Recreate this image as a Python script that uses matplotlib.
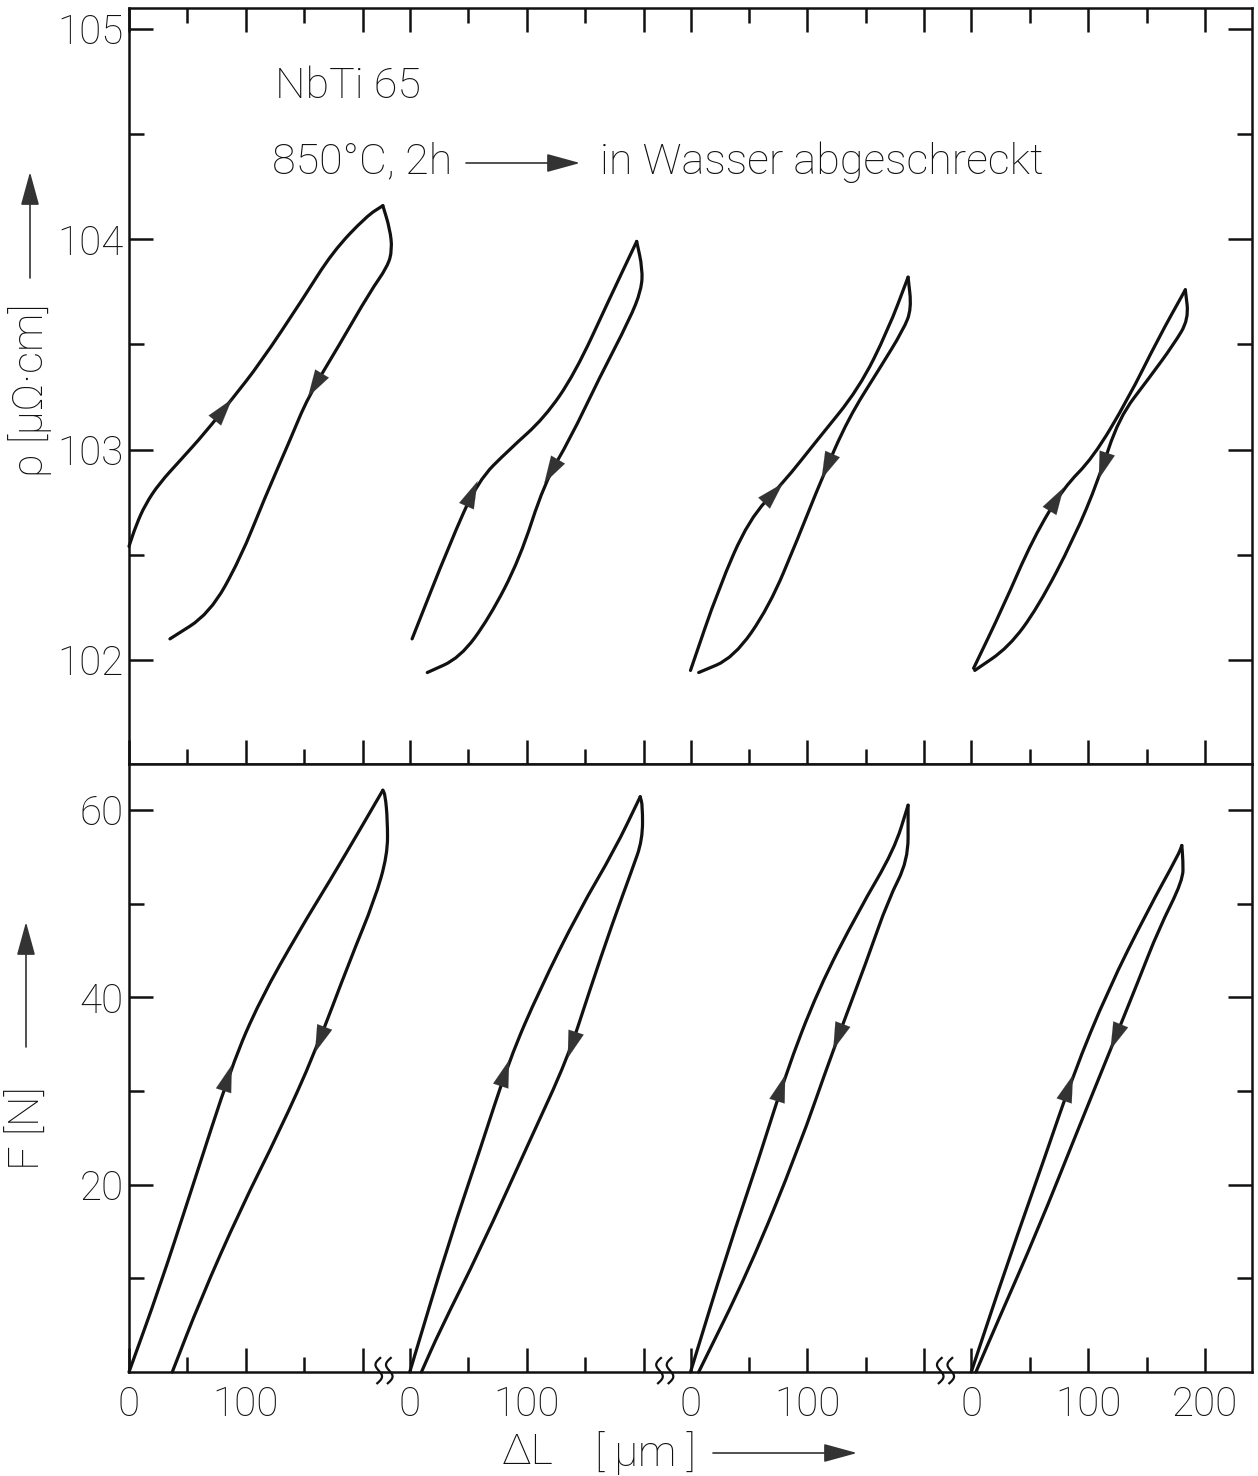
import numpy as np
import matplotlib.pyplot as plt
from matplotlib.patches import FancyArrowPatch, PathPatch
from matplotlib.path import Path
from matplotlib.ticker import FixedLocator, FixedFormatter

plt.rcParams['font.family'] = ['Roboto', 'DejaVu Sans']
plt.rcParams['font.weight'] = 'light'

# each cycle gets its own 0..240 um window on a shared axis
seg_offset = 240.0
break_at = 218.0

# --- resistivity loops: dL [um], rho [uOhm cm] ---
rho_up_dl = [
    [0, 6, 14, 26, 44, 65, 88, 112, 149, 174, 203, 217],
    [2, 34, 58, 85, 115, 141, 171, 194],
    [0, 24, 50, 79, 109, 144, 169, 186],
    [2, 27, 53, 79, 104, 134, 160, 183],
]
rho_up = [
    [102.54, 102.64, 102.74, 102.84, 102.95, 103.08, 103.24, 103.41, 103.72, 103.94, 104.11, 104.16],
    [102.10, 102.55, 102.85, 103.00, 103.15, 103.36, 103.72, 103.99],
    [101.95, 102.34, 102.67, 102.84, 103.05, 103.29, 103.57, 103.82],
    [101.96, 102.25, 102.58, 102.82, 102.96, 103.24, 103.53, 103.76],
]
rho_down_dl = [
    [217, 223, 225, 221, 206, 180, 153, 138, 116, 95, 69, 35],
    [194, 199, 198, 188, 162, 137, 115, 94, 68, 43, 15],
    [186, 189, 182, 161, 135, 112, 92, 67, 37, 7],
    [183, 186, 173, 152, 126, 109, 88, 57, 32, 3],
]
rho_down = [
    [104.16, 104.05, 103.95, 103.87, 103.75, 103.50, 103.25, 103.05, 102.77, 102.48, 102.22, 102.10],
    [103.99, 103.86, 103.76, 103.62, 103.34, 103.05, 102.84, 102.48, 102.20, 102.01, 101.94],
    [103.82, 103.67, 103.57, 103.38, 103.15, 102.86, 102.58, 102.25, 102.01, 101.94],
    [103.76, 103.62, 103.50, 103.34, 103.15, 102.86, 102.58, 102.25, 102.06, 101.95],
]
rho_up_arrow = [6, 2, 3, 3]
rho_down_arrow = [6, 6, 5, 5]

# --- force loops: dL [um], F [N] ---
f_up_dl = [
    [0, 26, 52, 88, 112, 146, 172, 197, 217],
    [0, 34, 60, 85, 111, 145, 175, 197],
    [0, 32, 58, 81, 109, 144, 174, 186],
    [0, 32, 62, 87, 117, 151, 177, 180],
]
f_up = [
    [0.0, 9.0, 18.9, 32.8, 39.7, 47.2, 52.5, 57.8, 62.1],
    [0.0, 14.1, 23.7, 33.3, 40.8, 49.3, 55.7, 61.4],
    [0.0, 13.0, 22.6, 31.7, 40.8, 49.3, 55.7, 60.5],
    [0.0, 12.0, 22.6, 31.7, 40.8, 49.3, 55.2, 56.2],
]
f_down_dl = [
    [217, 219, 221, 221, 210, 189, 159, 129, 95, 61, 37],
    [197, 199, 199, 190, 173, 154, 135, 103, 60, 26, 10],
    [186, 186, 186, 169, 151, 122, 92, 50, 7],
    [180, 181, 181, 160, 143, 119, 91, 57, 23, 4],
]
f_down = [
    [62.1, 61.6, 58.9, 55.2, 50.4, 44.0, 34.1, 25.8, 17.3, 7.7, 0.0],
    [61.4, 60.5, 56.8, 53.6, 47.8, 40.8, 33.5, 24.8, 13.0, 4.5, 0.0],
    [60.5, 59.4, 54.6, 50.4, 44.0, 34.4, 23.7, 10.9, 0.0],
    [56.2, 54.6, 52.5, 47.2, 41.8, 34.4, 25.8, 15.2, 5.5, 0.0],
]
f_up_arrow = [3, 3, 3, 3]
f_down_arrow = [6, 6, 5, 5]

x_tick_major = [0, 100, 200]
x_tick_minor = [50, 150]

W, H = 1258, 1476
fig = plt.figure(figsize=(W / 100, H / 100), dpi=100)


def fx(px):
    return px / W


def fy(py):
    return 1 - py / H


ax_r = fig.add_axes([fx(129), fy(764), fx(1252) - fx(129), fy(8) - fy(764)])
ax_f = fig.add_axes([fx(129), fy(1372), fx(1252) - fx(129), fy(764) - fy(1372)], sharex=ax_r)

ink = '#111111'
lw = 2.3


def smooth_path(x, y):
    # quadratic bezier through midpoints, ends pinned to first/last point
    pts = np.column_stack([x, y])
    verts = [pts[0], (pts[0] + pts[1]) / 2]
    codes = [Path.MOVETO, Path.LINETO]
    for i in range(1, len(pts) - 1):
        verts += [pts[i], (pts[i] + pts[i + 1]) / 2]
        codes += [Path.CURVE3, Path.CURVE3]
    verts.append(pts[-1])
    codes.append(Path.LINETO)
    return Path(verts, codes)


def draw_loop(ax, xs, ys, idx, k):
    x = np.asarray(xs, float) + k * seg_offset
    y = np.asarray(ys, float)
    ax.add_patch(PathPatch(smooth_path(x, y), fill=False, edgecolor=ink, lw=lw,
                           joinstyle='round', capstyle='round', clip_on=False))
    head = (x[idx], y[idx])
    tail = (x[idx] - 0.4 * (x[idx] - x[idx - 1]), y[idx] - 0.4 * (y[idx] - y[idx - 1]))
    ax.annotate('', xy=head, xytext=tail,
                arrowprops=dict(arrowstyle='-|>,head_length=0.75,head_width=0.22',
                                mutation_scale=26, color='#333333', lw=0.1,
                                shrinkA=0, shrinkB=0))


for k in range(4):
    draw_loop(ax_r, rho_up_dl[k], rho_up[k], rho_up_arrow[k], k)
    draw_loop(ax_r, rho_down_dl[k], rho_down[k], rho_down_arrow[k], k)
    draw_loop(ax_f, f_up_dl[k], f_up[k], f_up_arrow[k], k)
    draw_loop(ax_f, f_down_dl[k], f_down[k], f_down_arrow[k], k)

# x axis: four windows, labels 0 / 100 (and 200 on the last one)
major_pos, major_lab, minor_pos = [], [], []
for k in range(4):
    for v in x_tick_major:
        major_pos.append(k * seg_offset + v)
        major_lab.append('' if (v == 200 and k < 3) else str(v))
    for v in x_tick_minor:
        minor_pos.append(k * seg_offset + v)

ax_f.set_xlim(0, 3 * seg_offset + 240)
ax_f.xaxis.set_major_locator(FixedLocator(major_pos))
ax_f.xaxis.set_major_formatter(FixedFormatter(major_lab))
ax_f.xaxis.set_minor_locator(FixedLocator(minor_pos))

ax_r.set_ylim(101.505, 105.1)
ax_r.yaxis.set_major_locator(FixedLocator([102, 103, 104, 105]))
ax_r.yaxis.set_minor_locator(FixedLocator([101.5, 102.5, 103.5, 104.5]))
ax_f.set_ylim(0, 64.9)
ax_f.yaxis.set_major_locator(FixedLocator([20, 40, 60]))
ax_f.yaxis.set_minor_locator(FixedLocator([10, 30, 50]))

for ax in (ax_r, ax_f):
    for s in ax.spines.values():
        s.set_linewidth(1.8)
        s.set_color(ink)
    ax.tick_params(which='both', direction='in', color=ink, width=1.8,
                   labelsize=29, labelcolor=ink, right=True)
    ax.tick_params(which='major', length=17)
    ax.tick_params(which='minor', length=11)
    ax.tick_params(axis='y', pad=4)

ax_r.tick_params(axis='x', which='both', top=True, bottom=True, labelbottom=False)
ax_f.tick_params(axis='x', which='both', top=False, bottom=True, pad=10)

# axis break marks on the bottom axis
t = np.linspace(0, 1, 40)
for k in range(3):
    xb = k * seg_offset + break_at
    for d in (-4.5, 4.5):
        xs = xb + d - 3.4 * np.sin(2 * np.pi * t) + 2.5 * (0.5 - t)
        ys = 1.5 - 2.7 * t
        ax_f.plot(xs, ys, color=ink, lw=1.6, clip_on=False)

# annotations
txt = dict(fontsize=31, color=ink)
fig.text(fx(275), fy(87), 'NbTi 65', va='center', ha='left', **txt)
fig.text(fx(272), fy(162), '850°C, 2h', va='center', ha='left', **txt)
fig.text(fx(600), fy(162), 'in Wasser abgeschreckt', va='center', ha='left', **txt)

arrow_kw = dict(arrowstyle='-|>,head_length=0.8,head_width=0.22', mutation_scale=26,
                color='#333333', lw=1.2, shrinkA=0, shrinkB=0)
fig.add_artist(FancyArrowPatch((fx(466), fy(163)), (fx(580), fy(163)),
                               transform=fig.transFigure, **arrow_kw))

fig.text(fx(30), fy(390), 'ρ [μΩ·cm]', rotation=90, va='center', ha='center', **txt)
fig.add_artist(FancyArrowPatch((fx(30), fy(278)), (fx(30), fy(172)),
                               transform=fig.transFigure, **arrow_kw))
fig.text(fx(28), fy(1128), 'F [N]', rotation=90, va='center', ha='center', **txt)
fig.add_artist(FancyArrowPatch((fx(26), fy(1047)), (fx(26), fy(922)),
                               transform=fig.transFigure, **arrow_kw))
fig.text(fx(528), fy(1453), 'ΔL', va='center', ha='center', **txt)
fig.text(fx(645), fy(1453), '[ μm ]', va='center', ha='center', **txt)
fig.add_artist(FancyArrowPatch((fx(713), fy(1453)), (fx(857), fy(1453)),
                               transform=fig.transFigure, **arrow_kw))

fig.savefig('out.png', dpi=100)
